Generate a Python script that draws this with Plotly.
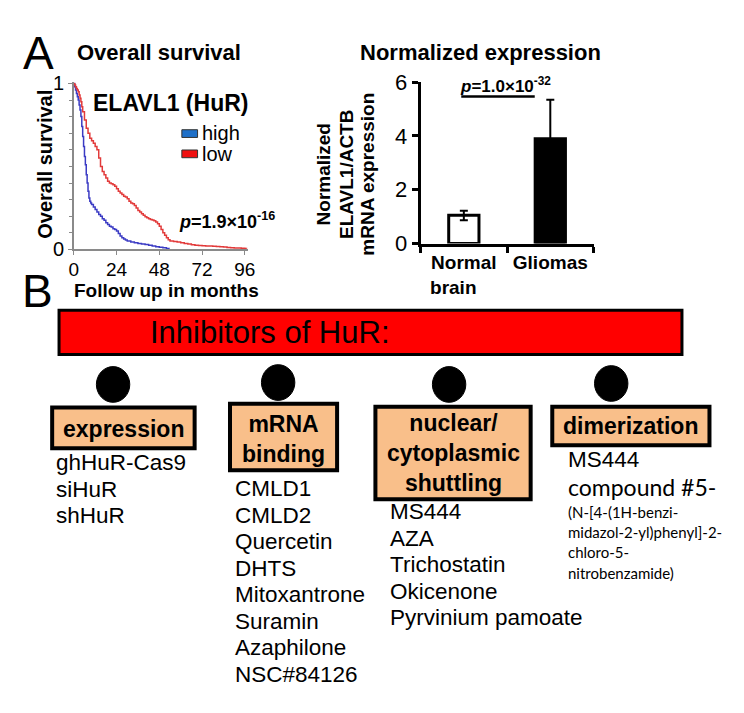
import plotly.graph_objects as go

W, H = 744, 713
def px(x): return x / W
def py(y): return 1 - y / H

# ---------------- data ----------------
t_high = [0, 0.5, 1, 1.5, 2, 2.5, 3, 3.5, 4, 4.5, 5, 5.5, 6, 6.5, 7, 7.5, 8, 8.5, 9, 9.5, 10,
          11, 12, 13, 14, 15, 16, 17, 18, 19, 20, 21, 22, 23, 24, 25, 26, 27, 28, 29, 30,
          32, 34, 36, 38, 40, 42, 44, 46, 48, 50, 52, 53.5]
s_high = [1.0, 0.98, 0.96, 0.94, 0.92, 0.90, 0.87, 0.84, 0.80, 0.74, 0.68, 0.62, 0.56, 0.51, 0.45, 0.40, 0.35, 0.31, 0.29, 0.28, 0.27,
          0.255, 0.24, 0.225, 0.21, 0.20, 0.185, 0.175, 0.16, 0.15, 0.14, 0.135, 0.125, 0.12, 0.11, 0.095, 0.08, 0.07, 0.062, 0.056, 0.05,
          0.045, 0.04, 0.036, 0.033, 0.03, 0.025, 0.02, 0.016, 0.013, 0.01, 0.006, 0.004]

t_low = [0, 0.5, 1, 1.5, 2, 2.5, 3, 3.5, 4, 4.5, 5,
         6, 7, 8, 9, 10, 11, 12, 13, 14, 15, 16, 17, 18, 19, 20, 21, 22, 23, 24, 25, 26, 27, 28, 29, 30,
         31, 32, 33, 34, 35, 36, 37, 38, 39, 40, 41, 42, 43, 44, 45, 46, 47, 48, 49, 50, 51, 52, 53, 54,
         56, 58, 60, 62, 64, 66, 68, 70, 72, 74, 76, 78, 80, 82, 84, 86, 88, 90, 92, 94, 96, 97]
s_low = [1.0, 0.99, 0.98, 0.97, 0.96, 0.95, 0.93, 0.91, 0.89, 0.86, 0.83,
         0.78, 0.73, 0.70, 0.67, 0.655, 0.64, 0.62, 0.60, 0.55, 0.50, 0.47, 0.45, 0.43, 0.41, 0.40, 0.395, 0.39, 0.38, 0.365, 0.35,
         0.34, 0.33, 0.32, 0.315, 0.305, 0.29, 0.28, 0.275, 0.265, 0.25, 0.235, 0.225, 0.215, 0.205, 0.197, 0.19, 0.185, 0.18,
         0.177, 0.172, 0.165, 0.155, 0.14, 0.12, 0.10, 0.085, 0.07, 0.058, 0.05,
         0.047, 0.044, 0.04, 0.036, 0.032, 0.028, 0.025, 0.023, 0.022, 0.021, 0.02, 0.019, 0.018, 0.016, 0.014, 0.012, 0.01,
         0.009, 0.008, 0.007, 0.006, 0.005]

surv_xticks = [0, 24, 48, 72, 96]

bar_categories = ["Normal brain", "Gliomas"]
bar_labels = ["<b>Normal<br>brain\u00a0\u00a0\u00a0\u00a0</b>", "<b>Gliomas</b>"]
bar_values = [1.05, 3.9]
bar_err_plus = [0.17, 1.45]
bar_err_minus = [0.18, 1.45]
bar_yticks = [0, 2, 4, 6]

col_expression = ["ghHuR-Cas9", "siHuR", "shHuR"]
col_mrna = ["CMLD1", "CMLD2", "Quercetin", "DHTS", "Mitoxantrone", "Suramin", "Azaphilone", "NSC#84126"]
col_shuttling = ["MS444", "AZA", "Trichostatin", "Okicenone", "Pyrvinium pamoate"]
col_dimer_main = ["MS444"]
col_dimer_compound = "compound #5-"
col_dimer_formula = ["(N-[4-(1H-benzi-", "midazol-2-yl)phenyl]-2-", "chloro-5-", "nitrobenzamide)"]

FONT = "Liberation Sans, Arial, sans-serif"
CAL = "Lato, Open Sans, sans-serif"

fig = go.Figure()

fig.add_trace(go.Scatter(x=t_high, y=s_high, mode="lines", line=dict(color="#3B3BC4", width=1.5, shape="hv"),
                         xaxis="x", yaxis="y", showlegend=False, hoverinfo="skip"))
fig.add_trace(go.Scatter(x=t_low, y=s_low, mode="lines", line=dict(color="#E23A3A", width=1.5, shape="hv"),
                         xaxis="x", yaxis="y", showlegend=False, hoverinfo="skip"))

fig.add_trace(go.Bar(x=bar_categories, y=bar_values, width=0.35,
                     marker=dict(color=["white", "black"], line=dict(color="black", width=3)),
                     error_y=dict(type="data", array=bar_err_plus, arrayminus=bar_err_minus,
                                  color="black", thickness=2, width=4),
                     xaxis="x2", yaxis="y2", showlegend=False, hoverinfo="skip"))

axis_gray = "#8a8a8a"
fig.update_layout(
    width=W, height=H, margin=dict(l=0, r=0, t=0, b=0),
    paper_bgcolor="white", plot_bgcolor="rgba(0,0,0,0)",
    font=dict(family=FONT, color="black"),
    xaxis=dict(domain=[px(70), px(247)], range=[0, 97.6], anchor="y",
               tickvals=surv_xticks, ticks="outside", ticklen=4, tickcolor=axis_gray,
               ticklabelstandoff=-2,
               showline=True, linecolor=axis_gray, linewidth=1.5, showgrid=False, zeroline=False,
               tickfont=dict(size=19, family=FONT)),
    yaxis=dict(domain=[py(246), py(73)], range=[0, 1.006], anchor="x",
               tickvals=[0, 1], ticks="outside", ticklen=4, tickcolor=axis_gray,
               minor=dict(ticks="outside", ticklen=3, tickcolor=axis_gray, dtick=0.1, tick0=0, showgrid=False),
               showline=True, linecolor=axis_gray, linewidth=1.5, showgrid=False, zeroline=False,
               tickfont=dict(size=20, family=FONT)),
    xaxis2=dict(domain=[px(423), px(599)], type="category", range=[-0.5, 1.5], anchor="y2",
                tickmode="array", tickvals=bar_categories, ticktext=bar_labels,
                tickson="boundaries", ticks="outside", ticklen=6, tickwidth=3, tickcolor="black",
                showline=True, linecolor="black", linewidth=3, showgrid=False, zeroline=False,
                tickfont=dict(size=19, family=FONT)),
    yaxis2=dict(domain=[py(240), py(72.7)], range=[0, 6], anchor="x2",
                tickvals=bar_yticks, ticks="outside", ticklen=6, tickwidth=3, tickcolor="black",
                showline=True, linecolor="black", linewidth=3, showgrid=False, zeroline=False,
                tickfont=dict(size=22, family=FONT)),
)

ann = []
def text(x, y, s, size, xanchor="center", yanchor="middle", align="center", family=FONT, angle=0):
    ann.append(dict(x=px(x), y=py(y), xref="paper", yref="paper", text=s, showarrow=False,
                    xanchor=xanchor, yanchor=yanchor, align=align, textangle=angle, borderpad=0,
                    font=dict(size=size, family=family, color="black")))

def column(x, y0, items, size, step=27.5, family=FONT):
    for i, s in enumerate(items):
        text(x, y0 + i * step, s, size, xanchor="left", family=family)

# Panel A
text(34, 42, "A", 46)
text(157, 42, "<b>Overall survival</b>", 22)
text(484, 42, "<b>Normalized expression</b>", 22)
text(41, 158, "<b>Overall survival</b>", 20, angle=-90)
text(164, 289, "<b>Follow up in months</b>", 19)
text(168, 94, "<b>ELAVL1 (HuR)</b>", 23)
text(199, 125, "high", 20, xanchor="left")
text(199, 147, "low", 20, xanchor="left")
text(226, 216, "<b><i>p</i>=1.9×10<sup>-16</sup></b>", 18)
text(324, 168, "<b>Normalized</b>", 19, angle=-90)
text(347, 168, "<b>ELAVL1/ACTB</b>", 19, angle=-90)
text(369, 168, "<b>mRNA expression</b>", 19, angle=-90)
ann.append(dict(x=0.48, y=5.9, xref="x2", yref="y2", text="<b><i>p</i>=1.0×10<sup>-32</sup></b>",
                showarrow=False, xanchor="center", yanchor="middle", font=dict(size=17, family=FONT)))

# Panel B
text(33, 289, "B", 46)
text(147, 332, "Inhibitors of HuR:", 31, xanchor="left")
text(121, 432, "<b>expression</b>", 23)
text(283.5, 442, "<b>mRNA<br>binding</b>", 23)
text(456, 457, "<b>nuclear/<br>cytoplasmic<br>shuttling</b>", 23)
text(637, 429, "<b>dimerization</b>", 23)

column(51, 467, col_expression, 22.5)
column(233, 494, col_mrna, 22.5)
column(391, 518, col_shuttling, 22.5)
column(572, 464, col_dimer_main, 22.5)
text(572, 492, col_dimer_compound, 23, xanchor="left", family=CAL)
column(572, 518, col_dimer_formula, 15, step=21, family=CAL)

fig.update_layout(annotations=ann)

shapes = []
def rect(x0, y0, x1, y1, fill, lw=3, lc="black"):
    shapes.append(dict(type="rect", xref="paper", yref="paper", x0=px(x0), x1=px(x1), y0=py(y1), y1=py(y0),
                       fillcolor=fill, line=dict(color=lc, width=lw), layer="below"))
def ellipse(cx, cy, w, h):
    shapes.append(dict(type="circle", xref="paper", yref="paper", x0=px(cx - w / 2), x1=px(cx + w / 2),
                       y0=py(cy + h / 2), y1=py(cy - h / 2), fillcolor="black", line=dict(color="black", width=1)))

# legend swatches
rect(180, 122, 196, 130, "#1F70C8", lw=1, lc="#333333")
rect(180, 143, 196, 151, "#F01010", lw=1, lc="#333333")
# p-value line for bar chart
shapes.append(dict(type="line", xref="x2", yref="y2", x0=-0.03, x1=0.82, y0=5.47, y1=5.47,
                   line=dict(color="black", width=2.5)))
# red header
rect(55, 309, 689, 355, "#FF0000", lw=3)
# circles
for cx, cy in [(110, 386), (278, 384), (452, 386), (617, 385)]:
    ellipse(cx, cy, 34, 37)
# orange boxes
ORANGE = "#F9BF8A"
rect(48, 410, 193, 452, ORANGE, lw=4)
rect(229, 406, 338, 475, ORANGE, lw=4)
rect(377, 409, 535, 505, ORANGE, lw=4)
rect(557, 409, 717, 449, ORANGE, lw=4)

fig.update_layout(shapes=shapes)
fig.write_html("out.html", config={"displayModeBar": False},
               post_script="document.body.style.margin='0px';")
